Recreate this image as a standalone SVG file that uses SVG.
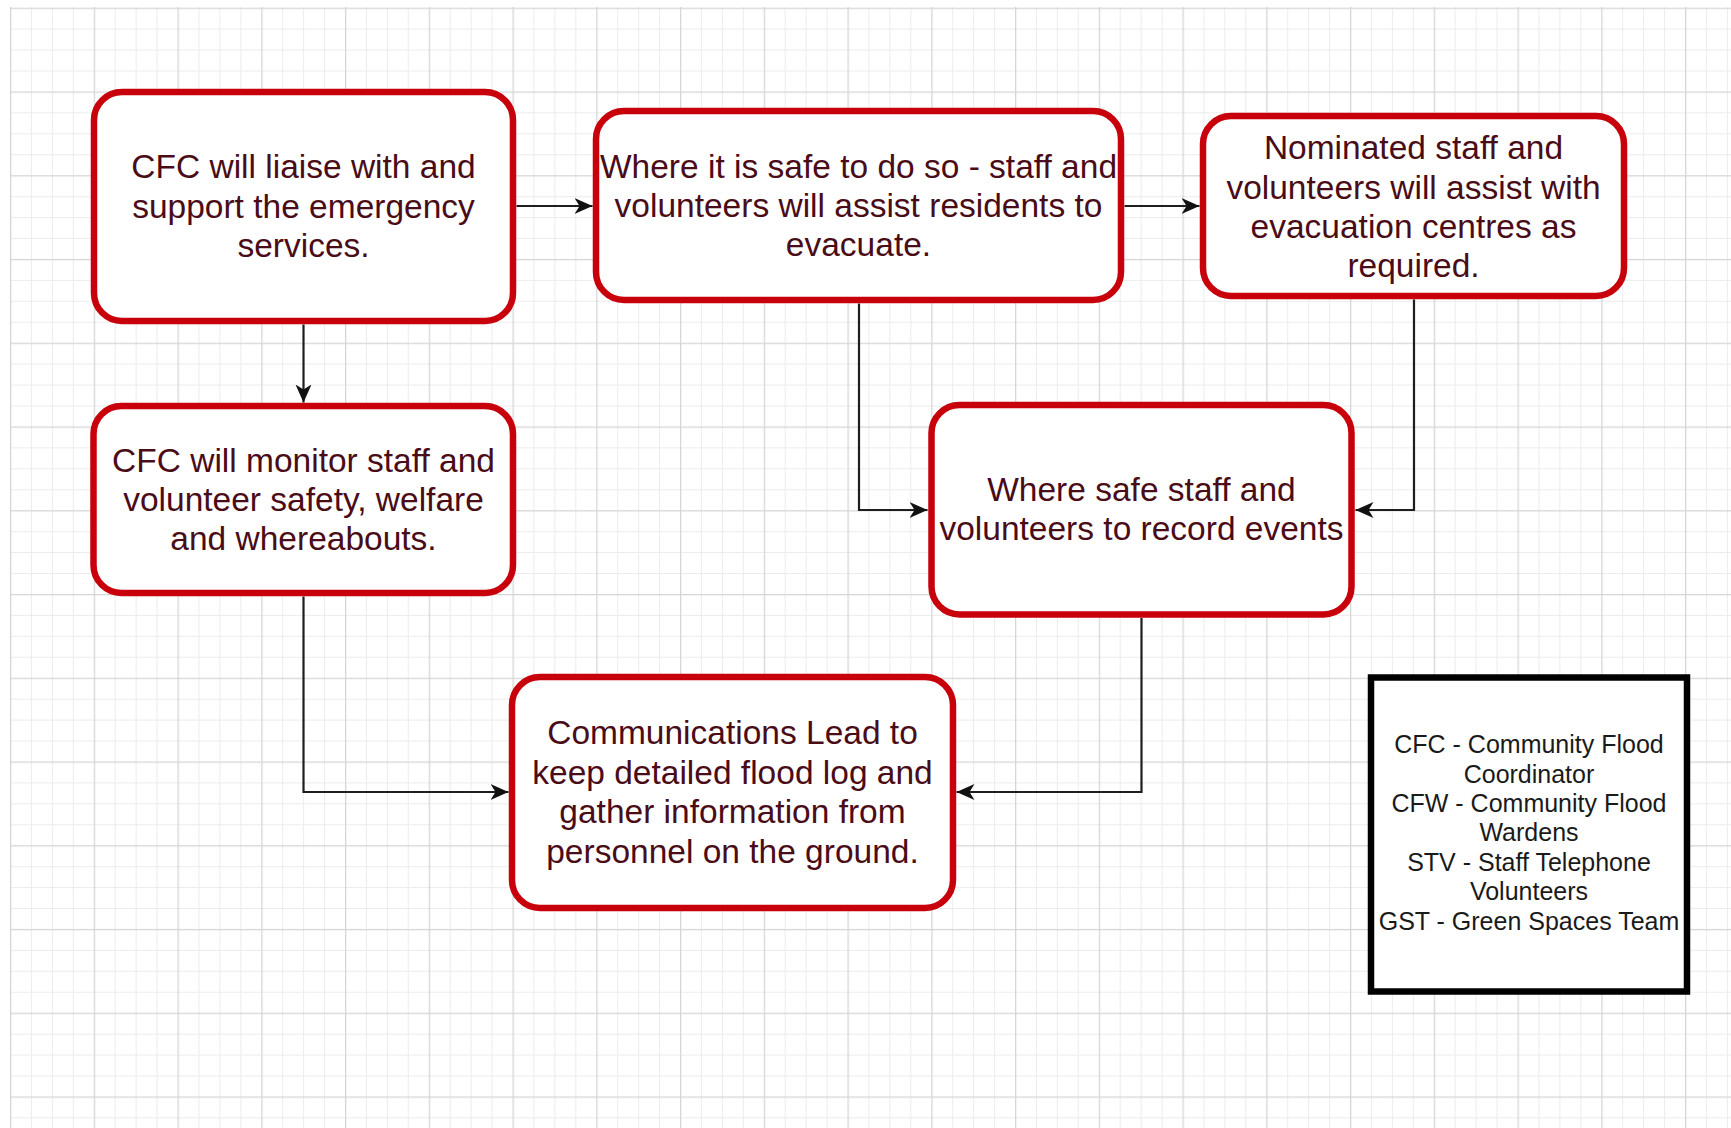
<svg xmlns="http://www.w3.org/2000/svg" width="1731" height="1128" viewBox="0 0 1731 1128">
  <style>
    .node rect.box { fill: #ffffff; stroke: #c8000c; stroke-width: 6.5; }
    .node text { font-family: "Liberation Sans", Arial, sans-serif; font-size: 33.5px; fill: #4a0c16; text-anchor: middle; }
    .legend rect { fill: #ffffff; stroke: #000000; stroke-width: 6.5; }
    .legend text { font-family: "Liberation Sans", Arial, sans-serif; font-size: 25px; fill: #1a1a1a; text-anchor: middle; }
    .conn path { fill: none; stroke: #1e1e1e; stroke-width: 2.2; marker-end: url(#arrow); }
  </style>
  <defs>
    <pattern id="grid" patternUnits="userSpaceOnUse" x="10" y="7.7" width="83.75" height="83.75">
      <rect x="20.94" y="0" width="1" height="83.75" fill="#ececec"/>
      <rect x="41.87" y="0" width="1" height="83.75" fill="#ececec"/>
      <rect x="62.81" y="0" width="1" height="83.75" fill="#ececec"/>
      <rect x="0" y="20.94" width="83.75" height="1" fill="#ececec"/>
      <rect x="0" y="41.87" width="83.75" height="1" fill="#ececec"/>
      <rect x="0" y="62.81" width="83.75" height="1" fill="#ececec"/>
      <rect x="0" y="0" width="1.3" height="83.75" fill="#d6d6d6"/>
      <rect x="0" y="0" width="83.75" height="1.3" fill="#d6d6d6"/>
    </pattern>
    <marker id="arrow" markerUnits="userSpaceOnUse" markerWidth="20" markerHeight="18" refX="18" refY="8" orient="auto">
      <path d="M0,0 L18,8 L0,16 L5,8 Z" fill="#111111"/>
    </marker>
  </defs>

  <rect x="0" y="0" width="1731" height="1128" fill="#ffffff"/>
  <rect x="10" y="7" width="1721" height="1121" fill="url(#grid)"/>

  <g id="connectors" class="conn">
    <path d="M516.5,206 L592.5,206"/>
    <path d="M303.5,324.5 L303.5,402.5"/>
    <path d="M1124.5,206 L1199.5,206"/>
    <path d="M859,303.5 L859,510 L927.5,510"/>
    <path d="M1414,299.5 L1414,510 L1355.5,510"/>
    <path d="M303.5,596.5 L303.5,792 L508.5,792"/>
    <path d="M1141.5,618 L1141.5,792 L956.5,792"/>
  </g>

  <g id="node-liaise" class="node">
    <rect class="box" x="94" y="92" width="419" height="229" rx="28"/>
    <text x="303.5" y="178">CFC will liaise with and</text>
    <text x="303.5" y="217.5">support the emergency</text>
    <text x="303.5" y="257">services.</text>
  </g>

  <g id="node-evacuate" class="node">
    <rect class="box" x="596" y="111" width="525" height="189" rx="28"/>
    <text x="858.5" y="177.5">Where it is safe to do so - staff and</text>
    <text x="858.5" y="216.5">volunteers will assist residents to</text>
    <text x="858.5" y="255.5">evacuate.</text>
  </g>

  <g id="node-centres" class="node">
    <rect class="box" x="1203" y="116" width="421" height="180" rx="28"/>
    <text x="1413.5" y="159">Nominated staff and</text>
    <text x="1413.5" y="198.5">volunteers will assist with</text>
    <text x="1413.5" y="237.5">evacuation centres as</text>
    <text x="1413.5" y="277">required.</text>
  </g>

  <g id="node-monitor" class="node">
    <rect class="box" x="93.5" y="406" width="419.5" height="187" rx="28"/>
    <text x="303.5" y="471.5">CFC will monitor staff and</text>
    <text x="303.5" y="510.5">volunteer safety, welfare</text>
    <text x="303.5" y="549.5">and whereabouts.</text>
  </g>

  <g id="node-record" class="node">
    <rect class="box" x="931.5" y="405" width="420" height="209.5" rx="28"/>
    <text x="1141.5" y="500.5">Where safe staff and</text>
    <text x="1141.5" y="539.5">volunteers to record events</text>
  </g>

  <g id="node-comms" class="node">
    <rect class="box" x="512" y="677" width="441" height="231" rx="28"/>
    <text x="732.5" y="744">Communications Lead to</text>
    <text x="732.5" y="783.5">keep detailed flood log and</text>
    <text x="732.5" y="823">gather information from</text>
    <text x="732.5" y="862.5">personnel on the ground.</text>
  </g>

  <g id="legend" class="legend">
    <rect x="1371" y="677.5" width="316" height="314"/>
    <text x="1529" y="753">CFC - Community Flood</text>
    <text x="1529" y="782.5">Coordinator</text>
    <text x="1529" y="812">CFW - Community Flood</text>
    <text x="1529" y="841">Wardens</text>
    <text x="1529" y="870.5">STV - Staff Telephone</text>
    <text x="1529" y="900">Volunteers</text>
    <text x="1529" y="929.5">GST - Green Spaces Team</text>
  </g>
</svg>
